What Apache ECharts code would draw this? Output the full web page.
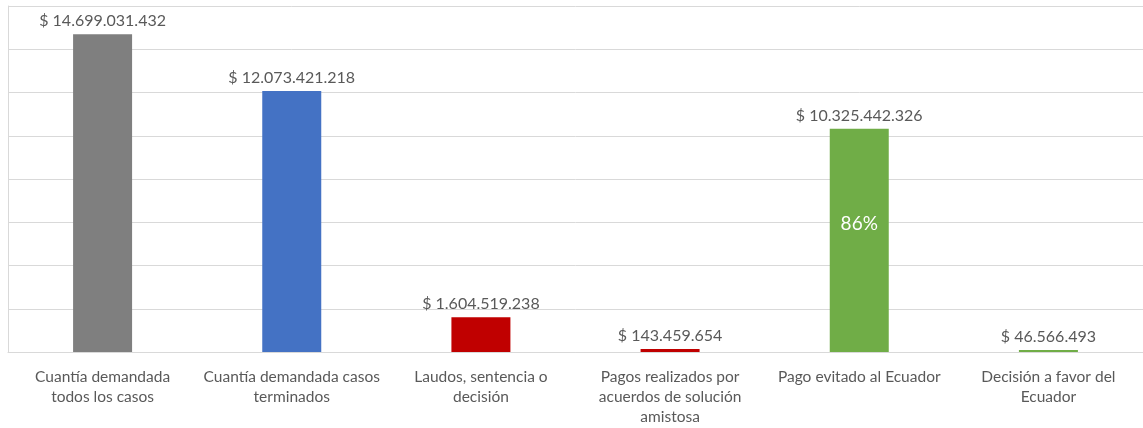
<!DOCTYPE html>
<html>
<head>
<meta charset="utf-8">
<style>
  html, body { margin: 0; padding: 0; background: #ffffff; }
  #chart { width: 1143px; height: 428px; }
</style>
<script src="https://cdn.jsdelivr.net/npm/echarts@6/dist/echarts.min.js"></script>
</head>
<body>
<div id="chart"></div>
<script>
// Category names (with their line breaks) along the x axis
const categories = [
  'Cuantía demandada\ntodos los casos',
  'Cuantía demandada casos\nterminados',
  'Laudos, sentencia o\ndecisión',
  'Pagos realizados por\nacuerdos de solución\namistosa',
  'Pago evitado al Ecuador',
  'Decisión a favor del\nEcuador'
];

// Amounts in US dollars
const amounts = [14699031432, 12073421218, 1604519238, 143459654, 10325442326, 46566493];

// Bar fill per category
const barColors = ['#7f7f7f', '#4472c4', '#c00000', '#c00000', '#70ad47', '#70ad47'];

// Share of the avoided payment over the claimed amount of closed cases
const avoidedShareText = '86%';
const avoidedIndex = 4;

// Value axis scale (hidden labels, gridlines only)
const axisMin = 0;
const axisMax = 16000000000;
const axisStep = 2000000000;

const textColor = '#595959';
const fontFamily = 'Lato, "Open Sans", sans-serif';

function formatMoney(v) {
  return '$ ' + String(v).replace(/\B(?=(\d{3})+(?!\d))/g, '.');
}

const chart = echarts.init(document.getElementById('chart'), null, { renderer: 'canvas' });

chart.setOption({
  animation: false,
  backgroundColor: '#ffffff',
  grid: { left: 8, top: 6, width: 1140, height: 346, containLabel: false },
  xAxis: {
    type: 'category',
    data: categories,
    axisLine: { show: true, lineStyle: { color: '#d9d9d9', width: 1 } },
    axisTick: { show: false },
    axisLabel: {
      interval: 0,
      margin: 15,
      color: textColor,
      fontFamily: fontFamily,
      fontSize: 15.5,
      lineHeight: 20
    }
  },
  yAxis: {
    type: 'value',
    min: axisMin,
    max: axisMax,
    interval: axisStep,
    axisLine: { show: true, lineStyle: { color: '#d9d9d9', width: 1 } },
    axisTick: { show: false },
    axisLabel: { show: false },
    splitLine: { show: true, lineStyle: { color: '#d9d9d9', width: 1 } }
  },
  series: [{
    type: 'bar',
    barWidth: 59,
    barMinHeight: 2,
    data: amounts.map((v, i) => ({ value: v, itemStyle: { color: barColors[i] } })),
    label: {
      show: true,
      position: 'top',
      distance: 5,
      color: textColor,
      fontFamily: fontFamily,
      fontSize: 16,
      formatter: p => formatMoney(p.value)
    },
    markPoint: {
      symbol: 'rect',
      symbolSize: 1,
      silent: true,
      itemStyle: { color: 'rgba(0,0,0,0)' },
      data: [{
        coord: [avoidedIndex, amounts[avoidedIndex] / 2],
        label: {
          show: true,
          position: 'inside',
          offset: [0, -16],
          formatter: avoidedShareText,
          color: '#ffffff',
          fontFamily: fontFamily,
          fontSize: 19
        }
      }]
    }
  }]
});
</script>
</body>
</html>
